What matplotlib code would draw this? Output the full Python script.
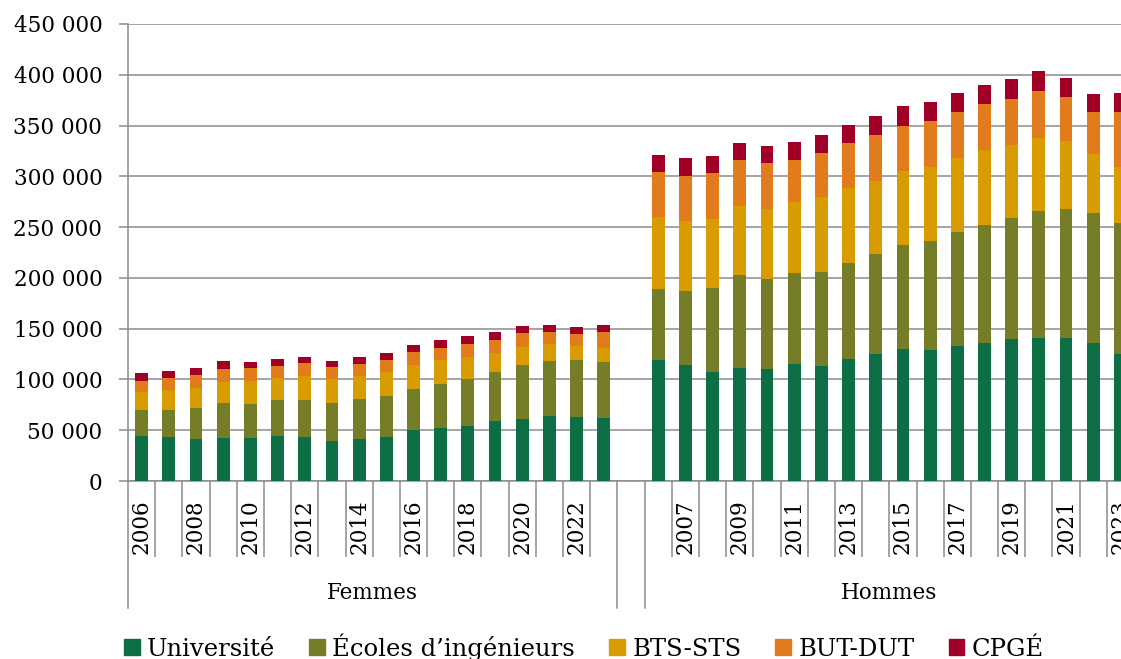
import matplotlib
matplotlib.use("Agg")
import matplotlib.pyplot as plt
import matplotlib.transforms as mtransforms
from matplotlib.patches import Patch
from matplotlib.ticker import FuncFormatter, FixedLocator
import numpy as np

plt.rcParams['font.family'] = ['DejaVu Serif']

#%% Data (thousands of students), years 2006-2023
years = list(range(2006, 2024))
groups = ["Femmes", "Hommes"]
filieres = ["Université", "Écoles d’ingénieurs", "BTS-STS", "BUT-DUT", "CPGÉ"]
colors = ["#0b6e45", "#767d27", "#d89c00", "#e27b1b", "#a00026"]

femmes_univ = [44.4, 43.4, 41.1, 42.1, 42.8, 44.7, 43.4, 39.1, 41.1, 43.4, 50.0, 52.3, 54.6, 58.6, 61.5, 63.8, 63.5, 61.8]
femmes_ing = [25.7, 26.7, 30.6, 34.5, 33.5, 34.9, 36.2, 37.5, 39.2, 40.2, 40.8, 43.1, 45.7, 48.3, 52.3, 54.0, 55.3, 55.6]
femmes_bts = [17.4, 19.4, 19.4, 21.1, 22.1, 22.0, 24.0, 23.4, 22.7, 23.3, 23.0, 23.4, 21.4, 18.8, 17.8, 16.7, 14.1, 13.5]
femmes_but = [11.2, 11.8, 12.9, 12.8, 12.5, 11.9, 12.2, 11.8, 12.1, 11.9, 12.8, 12.5, 13.5, 13.4, 13.8, 12.2, 11.5, 15.5]
femmes_cpge = [7.2, 7.3, 7.5, 7.3, 6.5, 6.9, 6.6, 6.6, 6.9, 7.2, 7.6, 7.8, 7.6, 7.6, 7.2, 7.2, 7.2, 7.5]

hommes_univ = [119.3, 113.8, 107.5, 111.1, 109.8, 115.1, 113.1, 119.7, 124.6, 129.5, 128.9, 132.5, 135.7, 140.0, 140.7, 141.3, 135.7, 124.6]
hommes_ing = [69.6, 72.8, 82.3, 91.5, 88.9, 90.1, 93.1, 95.1, 99.4, 103.0, 107.2, 112.7, 116.1, 119.3, 125.3, 127.0, 128.0, 129.2]
hommes_bts = [70.8, 69.1, 68.6, 68.2, 69.5, 69.6, 73.0, 73.3, 71.0, 72.4, 72.8, 73.3, 74.0, 71.7, 71.9, 66.0, 58.4, 55.1]
hommes_but = [44.8, 44.6, 44.4, 45.2, 44.7, 41.7, 43.8, 44.9, 45.3, 44.9, 45.6, 44.9, 45.5, 45.6, 46.3, 44.3, 41.3, 54.5]
hommes_cpge = [16.9, 17.5, 17.5, 17.2, 17.1, 17.6, 17.6, 17.8, 18.8, 19.2, 18.8, 18.5, 19.1, 18.8, 19.1, 17.8, 17.5, 18.5]

series = [
    np.array(femmes_univ + [0] + hommes_univ) * 1000,
    np.array(femmes_ing + [0] + hommes_ing) * 1000,
    np.array(femmes_bts + [0] + hommes_bts) * 1000,
    np.array(femmes_but + [0] + hommes_but) * 1000,
    np.array(femmes_cpge + [0] + hommes_cpge) * 1000,
]

n = len(years)
# one blank category between the two groups
x_f = np.arange(n)
x_h = np.arange(n) + n + 1
x = np.concatenate([x_f, [n], x_h])

#%% Figure
W, H = 1121, 659
fig = plt.figure(figsize=(W / 100, H / 100), dpi=100)
ax = fig.add_axes([128 / W, 1 - 481 / H, (W - 128) / W, 457 / H])

grey = "#8c8c8c"
bottom = np.zeros(len(x))
for vals, lab, col in zip(series, filieres, colors):
    ax.bar(x, vals, width=0.47, bottom=bottom, color=col, label=lab, zorder=3)
    bottom += vals

ax.set_ylim(0, 450000)
ax.set_xlim(-0.5, 2 * n + 0.02)
ax.set_yticks(np.arange(0, 450001, 50000))
ax.yaxis.set_major_formatter(FuncFormatter(lambda v, p: f"{int(v):,}".replace(",", " ")))
ax.yaxis.grid(True, color=grey, lw=1.1, zorder=0)
ax.set_axisbelow(True)

for s in ["top", "right"]:
    ax.spines[s].set_visible(False)
for s in ["left", "bottom"]:
    ax.spines[s].set_color(grey)
    ax.spines[s].set_linewidth(1.1)

ax.tick_params(axis="y", length=6.5, width=1.1, color=grey, pad=12, labelsize=15.5)

# year labels: every other category
lab_pos = list(x_f[::2]) + list(x_h[1::2])
lab_txt = [str(years[i]) for i in range(0, n, 2)] + [str(years[i]) for i in range(1, n, 2)]
ax.set_xticks(lab_pos)
ax.set_xticklabels(lab_txt, rotation=90)
ax.tick_params(axis="x", which="major", length=0, pad=13, labelsize=15.5)

# category boundary lines
bounds = [b - 0.5 for b in x_f[1:]] + [b - 0.5 for b in x_h[1:]] + [2 * n + 0.5]
ax.xaxis.set_minor_locator(FixedLocator(bounds))
ax.tick_params(axis="x", which="minor", length=55, width=1.1, color=grey)

# group separators and labels
trans = mtransforms.blended_transform_factory(ax.transData, ax.transAxes)
y_low = -(608 - 481) / 457
for gx in [-0.5, n - 0.5, n + 0.5]:
    ax.plot([gx, gx], [0, y_low], transform=trans, color=grey, lw=1.1, clip_on=False)
ax.text((x_f[0] + x_f[-1]) / 2, -(593 - 481) / 457, groups[0], transform=trans,
        ha="center", va="center", fontsize=15.5)
ax.text((x_h[0] + x_h[-1]) / 2, -(593 - 481) / 457, groups[1], transform=trans,
        ha="center", va="center", fontsize=15.5)

handles = [Patch(color=c, label=l) for c, l in zip(colors, filieres)]
fig.legend(handles=handles, loc="center", bbox_to_anchor=(584 / W, 1 - 647 / H),
           ncol=5, frameon=False, fontsize=17.5, handlelength=0.65, handleheight=0.65,
           handletextpad=0.3, columnspacing=1.4, borderaxespad=0, borderpad=0)

fig.savefig("out.png", dpi=100)
